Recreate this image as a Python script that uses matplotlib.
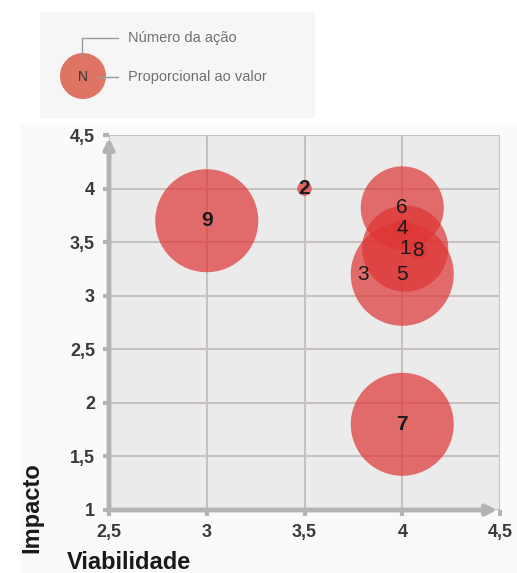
import numpy as np
import matplotlib
matplotlib.use("Agg")
import matplotlib.pyplot as plt
from matplotlib.patches import Rectangle, Circle

plt.rcParams['font.family'] = ['Liberation Sans', 'DejaVu Sans']

# data
acoes = ["1", "2", "3", "4", "5", "6", "7", "8", "9"]
viabilidade = [4.015, 3.5, 3.8, 4.0, 4.0, 4.0, 4.0, 4.08, 3.0]
impacto = [3.44, 4.0, 3.2, 3.63, 3.2, 3.82, 1.8, 3.42, 3.7]
valor = [7.0, 0.2, 0.0, 0.3, 10.0, 6.5, 10.0, 0.3, 10.0]
ticks = [1, 1.5, 2, 2.5, 3, 3.5, 4, 4.5]
xticks = [2.5, 3, 3.5, 4, 4.5]

W, H = 517, 573
fig = plt.figure(figsize=(W / 100, H / 100), dpi=100)

# legend / annotation layer in pixel coordinates
lay = fig.add_axes([0, 0, 1, 1], zorder=0)
lay.set_xlim(0, W)
lay.set_ylim(H, 0)
lay.axis("off")
lay.add_patch(Rectangle((20, 125), 497, 448, color="#fafafa", lw=0))
lay.add_patch(Rectangle((40, 12), 275, 106, color="#f6f6f6", lw=0))
lay.add_patch(Circle((83, 76), 23, color="#e07464", lw=0))
lay.text(83, 77, "N", ha="center", va="center", fontsize=10, color="#333333")
lay.plot([82, 82, 118], [56, 38, 38], color="#9a9a9a", lw=1)
lay.plot([97, 118], [77, 77], color="#9a9a9a", lw=1)
lay.text(128, 38, "Número da ação", ha="left", va="center", fontsize=10.5, color="#707070")
lay.text(128, 77, "Proporcional ao valor", ha="left", va="center", fontsize=10.5, color="#707070")
lay.text(67, 551, "Viabilidade", ha="left", va="top", fontsize=17, fontweight="bold", color="#1a1a1a")
lay.text(32, 508, "Impacto", ha="center", va="center", rotation=90, fontsize=17,
         fontweight="bold", color="#1a1a1a")

ax = fig.add_axes([109 / W, 1 - 510 / H, 391 / W, 375 / H], zorder=1)
ax.set_facecolor("#ebebeb")
ax.set_xlim(2.5, 4.5)
ax.set_ylim(1, 4.5)
ax.set_xticks(xticks)
ax.set_yticks(ticks)
ax.set_xticklabels([str(t).replace(".", ",") for t in xticks])
ax.set_yticklabels([str(t).replace(".", ",") for t in ticks])
ax.grid(True, color="#c9c1bd", lw=1.5, zorder=0)
ax.set_axisbelow(True)
for s in ax.spines.values():
    s.set_visible(False)
ax.tick_params(length=4, width=3, color="#b3b3b3", labelsize=13, labelcolor="#3a3a3a", pad=6)
for lab in ax.get_xticklabels() + ax.get_yticklabels():
    lab.set_fontweight("bold")

# axes with arrows
ax.annotate("", xy=(0, 1.0), xytext=(0, 0), xycoords="axes fraction",
            arrowprops=dict(arrowstyle="-|>,head_width=0.3,head_length=0.6", color="#b3b3b3", lw=3.5),
            annotation_clip=False)
ax.annotate("", xy=(1.0, 0), xytext=(0, 0), xycoords="axes fraction",
            arrowprops=dict(arrowstyle="-|>,head_width=0.3,head_length=0.6", color="#b3b3b3", lw=3.5),
            annotation_clip=False)

sizes = np.array(valor) * 550
ax.scatter(viabilidade, impacto, s=sizes, color="#de3434", alpha=0.7,
           edgecolors="none", zorder=3, clip_on=False)

pesos = ["normal", "bold", "normal", "normal", "normal", "normal", "bold", "normal", "bold"]
for n, x, y, w in zip(acoes, viabilidade, impacto, pesos):
    ax.text(x, y, n, ha="center", va="center", fontsize=15, fontweight=w,
            color="#1a1a1a", zorder=4)

fig.savefig("out.png", dpi=100)
